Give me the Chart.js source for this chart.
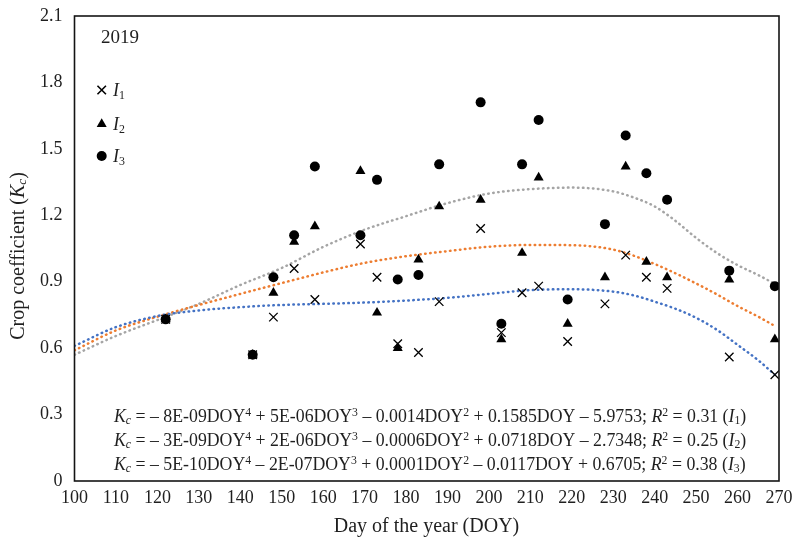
<!DOCTYPE html>
<html>
<head>
<meta charset="utf-8">
<script src="https://cdn.jsdelivr.net/npm/chart.js@4.4.0/dist/chart.umd.min.js"></script>
<style>
  html, body { margin: 0; padding: 0; background: #fff; }
</style>
</head>
<body>
<canvas id="kcChart" width="792" height="550"></canvas>
<script>
// measured days of the year and crop coefficients for the three treatments
const doy  = [122, 143, 148, 153, 158, 169, 173, 178, 183, 188, 198, 203, 208, 212, 219, 228, 233, 238, 243, 258, 269];
const kcI1 = [0.73, 0.57, 0.74, 0.96, 0.82, 1.07, 0.92, 0.62, 0.58, 0.81, 1.14, 0.67, 0.85, 0.88, 0.63, 0.80, 1.02, 0.92, 0.87, 0.56, 0.48];
const kcI2 = [0.73, 0.57, 0.85, 1.08, 1.15, 1.40, 0.76, 0.60, 1.00, 1.24, 1.27, 0.64, 1.03, 1.37, 0.71, 0.92, 1.42, 0.99, 0.92, 0.91, 0.64];
const kcI3 = [0.73, 0.57, 0.92, 1.11, 1.42, 1.11, 1.36, 0.91, 0.93, 1.43, 1.71, 0.71, 1.43, 1.63, 0.82, 1.16, 1.56, 1.39, 1.27, 0.95, 0.88];

// polynomial trend lines
const trendDoy = [100, 110, 120, 130, 140, 150, 160, 170, 180, 190, 200, 210, 220, 230, 235, 240, 245, 250, 255, 260, 265, 269];
const trendI1  = [0.61, 0.695, 0.745, 0.77, 0.785, 0.795, 0.80, 0.806, 0.815, 0.827, 0.845, 0.862, 0.866, 0.855, 0.838, 0.81, 0.778, 0.737, 0.683, 0.615, 0.545, 0.48];
const trendI2  = [0.59, 0.68, 0.742, 0.795, 0.845, 0.894, 0.942, 0.985, 1.015, 1.038, 1.058, 1.066, 1.065, 1.045, 1.017, 0.98, 0.938, 0.892, 0.843, 0.79, 0.742, 0.70];
const trendI3  = [0.57, 0.655, 0.727, 0.80, 0.885, 0.962, 1.057, 1.135, 1.196, 1.255, 1.298, 1.318, 1.325, 1.308, 1.28, 1.24, 1.175, 1.098, 1.03, 0.975, 0.93, 0.89];

const xTickVals = [100, 110, 120, 130, 140, 150, 160, 170, 180, 190, 200, 210, 220, 230, 240, 250, 260, 270];
const yTickVals = [0, 0.3, 0.6, 0.9, 1.2, 1.5, 1.8, 2.1];

const yearLabel = "2019";
const equations = [
  [["K","i"],["c","isub"],[" = – 8E-09DOY",""],["4","sup"],[" + 5E-06DOY",""],["3","sup"],[" – 0.0014DOY",""],["2","sup"],[" + 0.1585DOY – 5.9753; ",""],["R","i"],["2","sup"],[" = 0.31 (",""],["I","i"],["1","sub"],[")",""]],
  [["K","i"],["c","isub"],[" = – 3E-09DOY",""],["4","sup"],[" + 2E-06DOY",""],["3","sup"],[" – 0.0006DOY",""],["2","sup"],[" + 0.0718DOY – 2.7348; ",""],["R","i"],["2","sup"],[" = 0.25 (",""],["I","i"],["2","sub"],[")",""]],
  [["K","i"],["c","isub"],[" = – 5E-10DOY",""],["4","sup"],[" – 2E-07DOY",""],["3","sup"],[" + 0.0001DOY",""],["2","sup"],[" – 0.0117DOY + 0.6705; ",""],["R","i"],["2","sup"],[" = 0.38 (",""],["I","i"],["3","sub"],[")",""]]
];

const SERIF = '"Liberation Serif", "Times New Roman", serif';
const INK = "#1f1f1f";

const pts = ys => doy.map((d, i) => ({ x: d, y: ys[i] }));
const trend = ys => trendDoy.map((d, i) => ({ x: d, y: ys[i] }));

// small rich text writer: italic / sub / sup pieces on one baseline
function rich(ctx, parts, x, y, size, align) {
  const fontOf = st => {
    const small = st.includes("sub") || st.includes("sup");
    return (st.startsWith("i") ? "italic " : "") + (small ? size * 0.66 : size) + "px " + SERIF;
  };
  let w = 0;
  parts.forEach(([t, st]) => { ctx.font = fontOf(st); w += ctx.measureText(t).width; });
  let cx = align === "center" ? x - w / 2 : align === "right" ? x - w : x;
  ctx.textAlign = "left";
  ctx.textBaseline = "alphabetic";
  parts.forEach(([t, st]) => {
    ctx.font = fontOf(st);
    const dy = st.includes("sub") ? size * 0.14 : st.includes("sup") ? -size * 0.36 : 0;
    ctx.fillText(t, cx, y + dy);
    cx += ctx.measureText(t).width;
  });
}

const markers = [
  { pointStyle: "crossRot", radius: 6, borderWidth: 1.3 },
  { pointStyle: "triangle", radius: 5.8, borderWidth: 0 },
  { pointStyle: "circle", radius: 5, borderWidth: 0 }
];

const annotate = {
  id: "annotate",
  afterDraw(chart) {
    const { ctx, chartArea: a } = chart;
    ctx.save();
    ctx.strokeStyle = "#141414";
    ctx.lineWidth = 1.6;
    ctx.strokeRect(a.left, a.top, a.right - a.left, a.bottom - a.top);

    ctx.fillStyle = INK;
    rich(ctx, [[yearLabel, ""]], 101, 42.5, 19, "left");

    [90, 124, 156].forEach((y, i) => {
      ctx.fillStyle = "#000";
      ctx.strokeStyle = "#000";
      Chart.helpers.drawPoint(ctx, { ...markers[i], rotation: 0 }, 101.7, y);
      ctx.fillStyle = INK;
      rich(ctx, [["I", "i"], [String(i + 1), "sub"]], 113, y + 6, 18, "left");
    });

    [422, 446, 470].forEach((y, i) => rich(ctx, equations[i], 114, y, 17.8, "left"));

    // axis titles
    rich(ctx, [["Day of the year (DOY)", ""]], 426.5, 532, 20, "center");
    ctx.translate(23.5, 256);
    ctx.rotate(-Math.PI / 2);
    rich(ctx, [["Crop coefficient (", ""], ["K", "i"], ["c", "isub"], [")", ""]], 0, 0, 20, "center");
    ctx.restore();
  }
};

const trendStyle = { showLine: true, pointRadius: 0, borderWidth: 2.5, borderDash: [0.5, 4.5],
                     borderCapStyle: "round", cubicInterpolationMode: "monotone" };

new Chart(document.getElementById("kcChart"), {
  type: "scatter",
  data: {
    datasets: [
      { label: "I1", data: pts(kcI1), pointStyle: "crossRot", pointRadius: 6, pointBorderWidth: 1.3,
        pointBorderColor: "#000", pointBackgroundColor: "#000" },
      { label: "I2", data: pts(kcI2), pointStyle: "triangle", pointRadius: 5.8, pointBorderWidth: 0,
        pointBackgroundColor: "#000", pointBorderColor: "#000" },
      { label: "I3", data: pts(kcI3), pointStyle: "circle", pointRadius: 5, pointBorderWidth: 0,
        pointBackgroundColor: "#000", pointBorderColor: "#000" },
      { label: "Poly. (I1)", data: trend(trendI1), borderColor: "#4472C4", ...trendStyle },
      { label: "Poly. (I2)", data: trend(trendI2), borderColor: "#ED7D31", ...trendStyle },
      { label: "Poly. (I3)", data: trend(trendI3), borderColor: "#A5A5A5", ...trendStyle }
    ]
  },
  options: {
    responsive: false,
    animation: false,
    devicePixelRatio: 1,
    layout: { padding: { left: 0, right: 13, top: 16, bottom: 0 } },
    plugins: { legend: { display: false }, tooltip: { enabled: false } },
    scales: {
      x: {
        type: "linear", min: 100, max: 270,
        afterBuildTicks: s => { s.ticks = xTickVals.map(v => ({ value: v })); },
        afterFit: s => { s.height = 69; s.paddingLeft = 0; s.paddingRight = 0; },
        grid: { display: false, drawTicks: false },
        border: { display: false },
        ticks: { padding: 6, autoSkip: false, maxRotation: 0, color: INK, font: { family: SERIF, size: 18 } }
      },
      y: {
        min: 0, max: 2.1,
        afterBuildTicks: s => { s.ticks = yTickVals.map(v => ({ value: v })); },
        afterFit: s => { s.width = 74.5; s.paddingTop = 0; s.paddingBottom = 0; },
        grid: { display: false, drawTicks: false },
        border: { display: false },
        ticks: { padding: 12, color: INK, font: { family: SERIF, size: 18 },
                 callback: v => v === 0 ? "0" : v.toFixed(1) }
      }
    }
  },
  plugins: [annotate]
});
</script>
</body>
</html>
